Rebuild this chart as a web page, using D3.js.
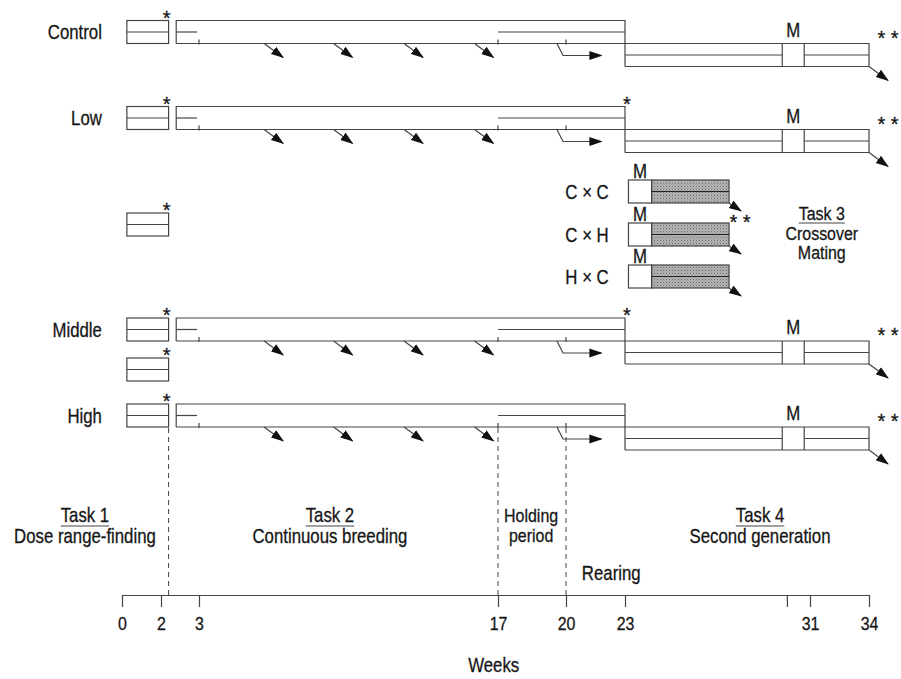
<!DOCTYPE html>
<html><head><meta charset="utf-8">
<script src="https://cdn.jsdelivr.net/npm/d3@7"></script>
<style>
body{margin:0;background:#fff}
svg text{font-family:"Liberation Sans",Arial,sans-serif;fill:#161616;stroke:#161616;stroke-width:0.3}
</style></head><body><svg id="c" width="901" height="679"></svg>
<script>
// ---------------- data ----------------
const groups = ["Control", "Low", "Middle", "High"];
const task2EndStar = [false, true, true, false];
const extraTask1Rows = ["extraA", "extraB"];
const weekTicks = [0, 2, 3, 17, 20, 23, 30, 31, 34];
const weekTickLabels = ["0", "2", "3", "17", "20", "23", "", "31", "34"];
const task1Weeks = [0.25, 2.2];
const task2Weeks = [2.4, 23];
const task2StartLineEnd = 2.95;
const litterWeeks = [6.05, 9.3, 12.6, 15.9];
const holdingWeeks = [17, 23];
const markWeeks = [3, 17, 20];
const rearingArrowWeeks = [19.6, 19.87, 21.8];
const task4Weeks = [23, 34];
const task4MatingWeeks = [29.8, 30.75];
const crossLabels = ["C \u00d7 C", "C \u00d7 H", "H \u00d7 C"];
const crossMatingWeeks = [23.15, 24.15];
const crossRearWeeks = [24.15, 27.5];
const dashedWeeks = [2.2, 17, 20];
const phaseTitles = ["Task 1", "Task 2", "Task 4"];
const phaseSubtitles = ["Dose range-finding", "Continuous breeding", "Second generation"];
const phaseCenters = [-1.9, 9.13, 28.84];
const holdingLabel = ["Holding", "period"];
const holdingCenter = 18.46;
const task3Label = ["Task 3", "Crossover", "Mating"];
const task3Center = 31.6;
const rearingLabel = "Rearing";
const rearingCenter = 22.3;
const axisTitle = "Weeks";
const axisTitleCenter = 16.8;

// ---------------- layout ----------------
const svg = d3.select("#c");
const x = d3.scaleLinear()
  .domain([0, 2, 3, 17, 20, 23, 31, 34])
  .range([122, 161, 199, 498, 566, 625, 810, 869]);
const rowY = d3.scaleOrdinal()
  .domain(["Control", "Low", "extraA", "Middle", "extraB", "High"])
  .range([20.5, 106.5, 213, 318, 358, 404]);
const crossY = d3.scaleOrdinal().domain(crossLabels).range([180, 223, 265]);
const H = 23;
const axisY = 595;
const stroke = "#444";
const sw = 1.2;
const SX = 0.84; // condensed look

const defs = svg.append("defs");
defs.append("marker").attr("id", "arr")
  .attr("viewBox", "0 -5 13 10").attr("refX", 12).attr("refY", 0)
  .attr("markerWidth", 13).attr("markerHeight", 10)
  .attr("markerUnits", "userSpaceOnUse").attr("orient", "auto")
  .append("path").attr("d", "M0,-4.5L13,0L0,4.5Z").attr("fill", "#111");
const pat = defs.append("pattern").attr("id", "stip")
  .attr("width", 3).attr("height", 3).attr("patternUnits", "userSpaceOnUse");
pat.append("rect").attr("width", 3).attr("height", 3).attr("fill", "#b4b4b4");
pat.append("rect").attr("width", 1).attr("height", 1).attr("fill", "#6a6a6a");
pat.append("rect").attr("x", 1.5).attr("y", 1.5).attr("width", 1).attr("height", 1).attr("fill", "#888");

const g = svg.append("g").attr("fill", "none").attr("stroke", stroke).attr("stroke-width", sw);
const t = svg.append("g");

function line(p, opts) {
  const el = g.append("path").attr("d", p);
  if (opts && opts.arrow) el.attr("marker-end", "url(#arr)");
  if (opts && opts.dash) el.attr("stroke-dasharray", opts.dash).attr("stroke-width", 1);
  return el;
}
function txt(cx, baseline, s, size, anchor, sx) {
  const k = sx || SX;
  const el = t.append("text").attr("transform", `translate(${cx},${baseline}) scale(${k},1)`)
    .attr("text-anchor", anchor || "middle").attr("font-size", size).text(s);
  return el.node().getComputedTextLength() * k;
}
function star(s, cx, baseline) { txt(cx, baseline, s, 20, "middle", 1); }

function task1Box(key) {
  const y0 = rowY(key);
  g.append("rect").attr("x", x(task1Weeks[0])).attr("y", y0)
    .attr("width", x(task1Weeks[1]) - x(task1Weeks[0])).attr("height", H);
  line(`M${x(task1Weeks[0])},${y0 + H / 2}H${x(task1Weeks[1])}`);
  star("*", x(task1Weeks[1]) - 2, y0 + 4);
}

// group rows
groups.forEach((name, i) => {
  const y0 = rowY(name), yb = y0 + H, yb2 = y0 + 2 * H, ym = y0 + H / 2;
  task1Box(name);
  txt(x(-1.03), ym + 7, name, 20, "end");
  // task 2 frame
  line(`M${x(task2Weeks[0])},${yb}V${y0}H${x(task2Weeks[1])}V${yb2}`);
  line(`M${x(task2Weeks[0])},${yb}H${x(task4Weeks[1])}V${yb2}H${x(task4Weeks[0])}`);
  line(`M${x(task2Weeks[0])},${ym}H${x(task2StartLineEnd)}`);
  line(`M${x(holdingWeeks[0])},${ym}H${x(holdingWeeks[1])}`);
  markWeeks.forEach(w => line(`M${x(w)},${yb - 4}V${yb + 1}`));
  litterWeeks.forEach(w => line(`M${x(w)},${yb}L${x(w) + 19},${yb + 14}`, {arrow: true}));
  line(`M${x(rearingArrowWeeks[0])},${yb}L${x(rearingArrowWeeks[1])},${yb + 12}H${x(rearingArrowWeeks[2])}`, {arrow: true});
  // task 4
  const ym4 = yb + H / 2;
  line(`M${x(task4Weeks[0])},${ym4}H${x(task4MatingWeeks[0])}M${x(task4MatingWeeks[1])},${ym4}H${x(task4Weeks[1])}`);
  task4MatingWeeks.forEach(w => line(`M${x(w)},${yb}V${yb2}`));
  line(`M${x(task4Weeks[1])},${yb2}L${x(task4Weeks[1]) + 19},${yb2 + 14}`, {arrow: true});
  txt(x((task4MatingWeeks[0] + task4MatingWeeks[1]) / 2), yb - 7, "M", 20, "middle");
  star("* *", x(task4Weeks[1]) + 19, yb + 1);
  if (task2EndStar[i]) star("*", x(task2Weeks[1]) + 2, y0 + 4);
});
extraTask1Rows.forEach(task1Box);

// crossover mating
crossLabels.forEach((lab, i) => {
  const y0 = crossY(lab), ym = y0 + H / 2;
  g.append("rect").attr("x", x(crossRearWeeks[0])).attr("y", y0)
    .attr("width", x(crossRearWeeks[1]) - x(crossRearWeeks[0])).attr("height", H)
    .attr("fill", "url(#stip)");
  g.append("rect").attr("x", x(crossMatingWeeks[0])).attr("y", y0)
    .attr("width", x(crossMatingWeeks[1]) - x(crossMatingWeeks[0])).attr("height", H)
    .attr("fill", "#fff");
  line(`M${x(crossRearWeeks[0])},${ym}H${x(crossRearWeeks[1])}`).attr("stroke", "#222");
  line(`M${x(crossRearWeeks[1])},${y0 + H}L${x(crossRearWeeks[1]) + 12},${y0 + H + 8}`, {arrow: true});
  txt(x((crossMatingWeeks[0] + crossMatingWeeks[1]) / 2), y0 - 2, "M", 20, "middle");
  txt(x(21.07), ym + 7, lab, 20, "middle");
});
star("* *", x(crossRearWeeks[1]) + 11, crossY(crossLabels[1]) + 6);

// Task 3 label
[220, 240, 259].forEach((yy, i) => {
  const w = txt(x(task3Center), yy, task3Label[i], 19, "middle");
  if (i === 0) line(`M${x(task3Center) - w / 2},${yy + 3}H${x(task3Center) + w / 2}`);
});

// dashed dividers
dashedWeeks.forEach(w => line(`M${x(w)},${rowY("High") + H + 1}V${axisY}`, {dash: "5,4"}));

// phase labels
phaseTitles.forEach((tt, i) => {
  const cx = x(phaseCenters[i]);
  const w = txt(cx, 522, tt, 20, "middle");
  line(`M${cx - w / 2},526H${cx + w / 2}`);
  txt(cx, 543, phaseSubtitles[i], 20, "middle");
});
holdingLabel.forEach((s, i) => txt(x(holdingCenter), 522 + i * 20, s, 19, "middle"));
txt(x(rearingCenter), 580, rearingLabel, 20, "middle");

// axis
const ax = svg.append("g").attr("transform", `translate(0,${axisY})`)
  .call(d3.axisBottom(x).tickValues(weekTicks)
    .tickFormat((d, i) => weekTickLabels[i]).tickSize(12).tickSizeOuter(0).tickPadding(10));
ax.select(".domain").attr("stroke", stroke).attr("stroke-width", sw);
ax.selectAll(".tick line").attr("stroke", stroke).attr("stroke-width", sw);
ax.selectAll(".tick text").attr("font-size", 19).attr("fill", "#161616")
  .attr("transform", `scale(${SX},1)`)
  .style("font-family", '"Liberation Sans",Arial,sans-serif');
txt(x(axisTitleCenter), 672, axisTitle, 20, "middle");
</script></body></html>
